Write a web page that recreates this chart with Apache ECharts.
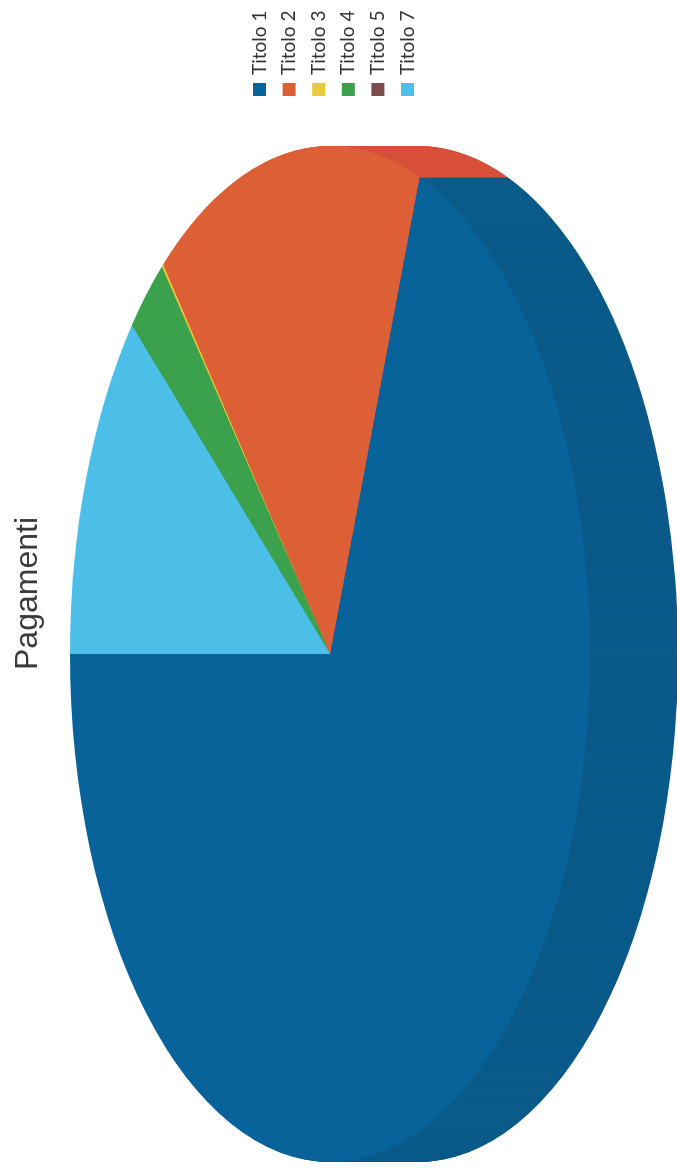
<!DOCTYPE html>
<html>
<head>
    <meta http-equiv="Content-Type" content="text/html; charset=UTF-8">
    <title>Pagamenti</title>
    <script type="text/javascript" src="https://cdn.jsdelivr.net/npm/echarts@6/dist/echarts.min.js"></script>
    <style>
        html, body { margin: 0; padding: 0; background: #fff; overflow: hidden; }
        /* the scanned page lies on its side, so the whole chart is turned */
        #view { position: absolute; left: 0; top: 0; width: 1172px; height: 677px;
                transform-origin: 0 0; transform: translate(0, 1172px) rotate(-90deg); }
    </style>
</head>
<body>
<div id="view"></div>
<script type="text/javascript">
    var categories = ["Titolo 1", "Titolo 2", "Titolo 3", "Titolo 4", "Titolo 5", "Titolo 7"];
    var values = [69.4, 16.7, 0.1, 2.6, 0, 11.2];
    var faceColors = ["#07639a", "#dc5f36", "#eac93c", "#3ba14c", "#7d4a50", "#4cbfe8"];
    var sideColors = ["#0a5a8a", "#d9503a", "#d8b835", "#34903f", "#6d4045", "#42aad2"];

    // ellipse of the pie face and depth of the extrusion, px
    var cx = 518, cy = 330, rx = 508, ry = 260, depth = 88;

    var total = values.reduce(function (a, b) { return a + b; }, 0);

    // slices run counter clockwise from 12 o'clock
    function sliceAngles(index) {
        var before = 0;
        for (var i = 0; i < index; i++) before += values[i];
        return [
            -Math.PI / 2 - before / total * Math.PI * 2,
            -Math.PI / 2 - (before + values[index]) / total * Math.PI * 2
        ];
    }

    function sector(index, offset, color, z2) {
        var a = sliceAngles(index);
        return {
            type: "group",
            x: cx,
            y: cy + offset,
            scaleX: rx,
            scaleY: ry,
            children: [{
                type: "sector",
                z2: z2,
                shape: { cx: 0, cy: 0, r0: 0, r: 1, startAngle: a[0], endAngle: a[1], clockwise: false },
                style: { fill: color }
            }]
        };
    }

    // side layers first, deepest at the bottom, then the face on top
    function renderSlice(index) {
        return function () {
            var parts = [];
            for (var d = depth; d > 0; d--) {
                parts.push(sector(index, d, sideColors[index], depth - d));
            }
            parts.push(sector(index, 0, faceColors[index], 1000));
            return { type: "group", children: parts };
        };
    }

    var myChart = echarts.init(document.getElementById("view"));
    var option = {
        animation: false,
        backgroundColor: "#fff",
        color: faceColors,
        title: {
            text: "Pagamenti",
            left: 497,
            top: 7,
            textStyle: { fontFamily: "Liberation Sans", fontWeight: "normal", fontSize: 32, color: "#3a3a3a" }
        },
        legend: {
            orient: "vertical",
            left: 1076,
            top: 250,
            padding: 0,
            itemWidth: 13,
            itemHeight: 13,
            itemGap: 10.6,
            icon: "rect",
            data: categories,
            selectedMode: false,
            textStyle: { fontFamily: "Lato", fontSize: 19, lineHeight: 13, color: "#333", padding: [0, 0, 4, 3] }
        },
        series: categories.map(function (name, i) {
            return {
                type: "custom",
                coordinateSystem: "none",
                name: name,
                renderItem: renderSlice(i),
                data: [values[i]]
            };
        })
    };
    myChart.setOption(option);
</script>
</body>
</html>
